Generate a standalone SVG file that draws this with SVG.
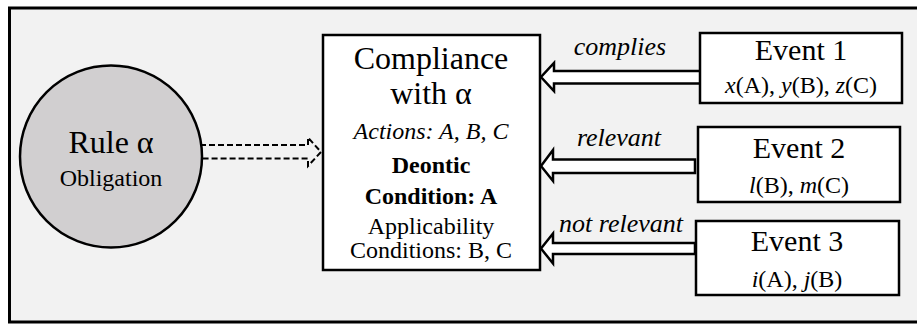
<svg xmlns="http://www.w3.org/2000/svg" width="917" height="325" viewBox="0 0 917 325">
<style>
text{font-family:"Liberation Serif","Times New Roman",serif;fill:#000;text-anchor:middle}
.box{fill:#fff;stroke:#000;stroke-width:2.5}
.arr{fill:#fff;stroke:#000;stroke-width:2.5;stroke-linejoin:miter}
.dash{fill:none;stroke:#000;stroke-width:2;stroke-dasharray:6 3}
.it{font-style:italic}
.b{font-weight:bold}
</style>
<rect x="9.5" y="8" width="920" height="314" fill="#f2f2f2" stroke="#000" stroke-width="3"/>
<g id="connectors">
  <path class="dash" d="M200 145 H308 V137.5 L321 152 L308 166 V158.5 H200"/>
  <path class="arr" d="M700 71 H554 V63 L541 77 L554 91 V83.5 H700"/>
  <path class="arr" d="M695 159.5 H553 V150 L541 166 L553 181 V173 H695 Z"/>
  <path class="arr" d="M695 243 H553 V233.5 L541 248.5 L553 263.5 V254 H695 Z"/>
  <text class="it" x="620" y="55" font-size="26">complies</text>
  <text class="it" x="619" y="146" font-size="26">relevant</text>
  <text class="it" x="621" y="232" font-size="26">not relevant</text>
</g>
<g id="rule">
  <circle cx="111" cy="156.5" r="91" fill="#d1cfd0" stroke="#000" stroke-width="2.5"/>
  <text x="111" y="153" font-size="32">Rule α</text>
  <text x="111" y="186" font-size="24">Obligation</text>
</g>
<g id="compliance">
  <rect class="box" x="323" y="35" width="217" height="235"/>
  <text x="431" y="69" font-size="32">Compliance</text>
  <text x="431" y="104" font-size="32">with α</text>
  <text class="it" x="431" y="139" font-size="24">Actions: A, B, C</text>
  <text class="b" x="431" y="173" font-size="24">Deontic</text>
  <text class="b" x="431" y="204" font-size="24">Condition: A</text>
  <text x="431" y="234" font-size="24">Applicability</text>
  <text x="431" y="258" font-size="24">Conditions: B, C</text>
</g>
<g id="event1">
  <rect class="box" x="700" y="33" width="202" height="70"/>
  <text x="801" y="60" font-size="30">Event 1</text>
  <text x="801" y="93" font-size="24"><tspan class="it">x</tspan>(A), <tspan class="it">y</tspan>(B), <tspan class="it">z</tspan>(C)</text>
</g>
<g id="event2">
  <rect class="box" x="698" y="127" width="202" height="75"/>
  <text x="799" y="158" font-size="30">Event 2</text>
  <text x="799" y="193" font-size="24"><tspan class="it">l</tspan>(B), <tspan class="it">m</tspan>(C)</text>
</g>
<g id="event3">
  <rect class="box" x="696" y="221" width="203" height="74"/>
  <text x="797" y="251" font-size="30">Event 3</text>
  <text x="797" y="287" font-size="24"><tspan class="it">i</tspan>(A), <tspan class="it">j</tspan>(B)</text>
</g>
</svg>
